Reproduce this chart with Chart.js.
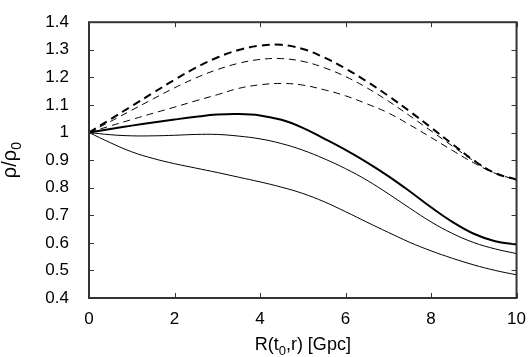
<!DOCTYPE html>
<html lang="en">
<head>
<meta charset="UTF-8" />
<title>rho / rho0</title>
<script src="https://cdn.jsdelivr.net/npm/chart.js"></script>
<style>
  html, body { margin: 0; padding: 0; background: #fff; }
  #wrap { width: 529px; height: 357px; }
</style>
</head>
<body>
<div id="wrap"><canvas id="chartRho" width="529" height="357"></canvas></div>

<script>
// R(t0,r) in Gpc
const radius = [0, 0.5, 1, 1.5, 2, 2.5, 3, 3.5, 4, 4.5, 5, 5.5, 6, 6.5, 7, 7.5, 8, 8.5, 9, 9.5, 10];

// dashed curves (top to bottom)
const dashedThick = [1.0, 1.048, 1.096, 1.144, 1.191, 1.235, 1.272, 1.299, 1.315, 1.318, 1.303, 1.272, 1.232, 1.185, 1.133, 1.077, 1.018, 0.958, 0.899, 0.853, 0.829];
const dashedMid   = [1.0, 1.040, 1.081, 1.122, 1.162, 1.198, 1.228, 1.251, 1.265, 1.268, 1.258, 1.235, 1.203, 1.162, 1.114, 1.061, 1.006, 0.951, 0.897, 0.853, 0.829];
const dashedLow   = [1.0, 1.024, 1.047, 1.070, 1.092, 1.115, 1.137, 1.160, 1.173, 1.178, 1.172, 1.155, 1.133, 1.104, 1.071, 1.028, 0.982, 0.935, 0.890, 0.852, 0.829];

// solid curves (top to bottom)
const solidThick = [1.0, 1.013, 1.025, 1.036, 1.047, 1.057, 1.065, 1.067, 1.062, 1.046, 1.017, 0.978, 0.937, 0.892, 0.842, 0.787, 0.729, 0.676, 0.633, 0.606, 0.594];
const solidMid   = [1.0, 0.992, 0.988, 0.988, 0.990, 0.993, 0.993, 0.987, 0.977, 0.960, 0.936, 0.905, 0.869, 0.827, 0.778, 0.726, 0.676, 0.634, 0.601, 0.578, 0.561];
const solidLow   = [1.0, 0.963, 0.930, 0.906, 0.887, 0.871, 0.855, 0.838, 0.821, 0.802, 0.779, 0.749, 0.713, 0.675, 0.638, 0.602, 0.571, 0.544, 0.520, 0.500, 0.484];

const xTicks = [0, 2, 4, 6, 8, 10];
const yTicks = [0.4, 0.5, 0.6, 0.7, 0.8, 0.9, 1.0, 1.1, 1.2, 1.3, 1.4];

const FONT = '"Liberation Sans", Arial, sans-serif';
const AXIS_COLOR = '#333';

function serie(values, width, dash) {
  return {
    data: radius.map((r, i) => ({ x: r, y: values[i] })),
    borderColor: '#000',
    borderWidth: width,
    borderDash: dash,
    pointRadius: 0,
    fill: false,
    tension: 0.4
  };
}

// frame, inside ticks on all four sides, and axis titles with subscripts
const marcoPlugin = {
  id: 'marco',
  afterDraw(chart) {
    const { ctx, chartArea: a, scales } = chart;
    const t = 5;
    ctx.save();
    ctx.strokeStyle = AXIS_COLOR;
    ctx.lineWidth = 1;
    ctx.beginPath();
    xTicks.forEach(v => {
      const px = Math.round(scales.x.getPixelForValue(v)) + 0.5;
      ctx.moveTo(px, a.bottom); ctx.lineTo(px, a.bottom - t);
      ctx.moveTo(px, a.top); ctx.lineTo(px, a.top + t);
    });
    yTicks.forEach(v => {
      const py = Math.round(scales.y.getPixelForValue(v)) + 0.5;
      ctx.moveTo(a.left, py); ctx.lineTo(a.left + t, py);
      ctx.moveTo(a.right, py); ctx.lineTo(a.right - t, py);
    });
    ctx.stroke();
    ctx.lineWidth = 2;
    ctx.strokeRect(a.left, a.top, a.right - a.left, a.bottom - a.top);

    // text with a subscript part
    function escribir(partes, cx, cy, size) {
      const subSize = Math.round(size * 0.7);
      let total = 0;
      partes.forEach(p => {
        ctx.font = (p.sub ? subSize : size) + 'px ' + FONT;
        p.w = ctx.measureText(p.txt).width;
        total += p.w;
      });
      let x = cx - total / 2;
      ctx.fillStyle = '#000';
      ctx.textBaseline = 'alphabetic';
      ctx.textAlign = 'left';
      partes.forEach(p => {
        ctx.font = (p.sub ? subSize : size) + 'px ' + FONT;
        ctx.fillText(p.txt, x, cy + (p.sub ? size * 0.25 : 0));
        x += p.w;
      });
    }

    const midX = (a.left + a.right) / 2;
    escribir([{ txt: 'R(t' }, { txt: '0', sub: true }, { txt: ',r) [Gpc]' }], midX, 350, 18);

    ctx.translate(16, (a.top + a.bottom) / 2);
    ctx.rotate(-Math.PI / 2);
    escribir([{ txt: 'ρ/ρ' }, { txt: '0', sub: true }], 0, 0, 20);
    ctx.restore();
  }
};

const ctx = document.getElementById('chartRho').getContext('2d');

new Chart(ctx, {
  type: 'line',
  data: {
    datasets: [
      serie(dashedThick, 2, [8, 5]),
      serie(dashedMid, 1, [7, 5]),
      serie(dashedLow, 1, [7, 5]),
      serie(solidThick, 2, []),
      serie(solidMid, 1, []),
      serie(solidLow, 1, [])
    ]
  },
  options: {
    responsive: false,
    animation: false,
    layout: { padding: { left: 0, right: 5, top: 7, bottom: 0 } },
    plugins: {
      legend: { display: false },
      tooltip: { enabled: false }
    },
    scales: {
      x: {
        type: 'linear',
        min: 0,
        max: 10,
        afterBuildTicks(scale) { scale.ticks = xTicks.map(v => ({ value: v })); },
        afterFit(scale) { scale.height = 59; },
        grid: { display: false },
        border: { display: false },
        ticks: { color: '#000', font: { family: FONT, size: 17 }, padding: 3, maxRotation: 0 }
      },
      y: {
        type: 'linear',
        min: 0.4,
        max: 1.4,
        afterBuildTicks(scale) { scale.ticks = yTicks.map(v => ({ value: v })); },
        afterFit(scale) { scale.width = 89; },
        grid: { display: false },
        border: { display: false },
        ticks: {
          color: '#000',
          font: { family: FONT, size: 17 },
          padding: 12,
          callback: v => String(Number(v.toFixed(1)))
        }
      }
    }
  },
  plugins: [marcoPlugin]
});
</script>
</body>
</html>
